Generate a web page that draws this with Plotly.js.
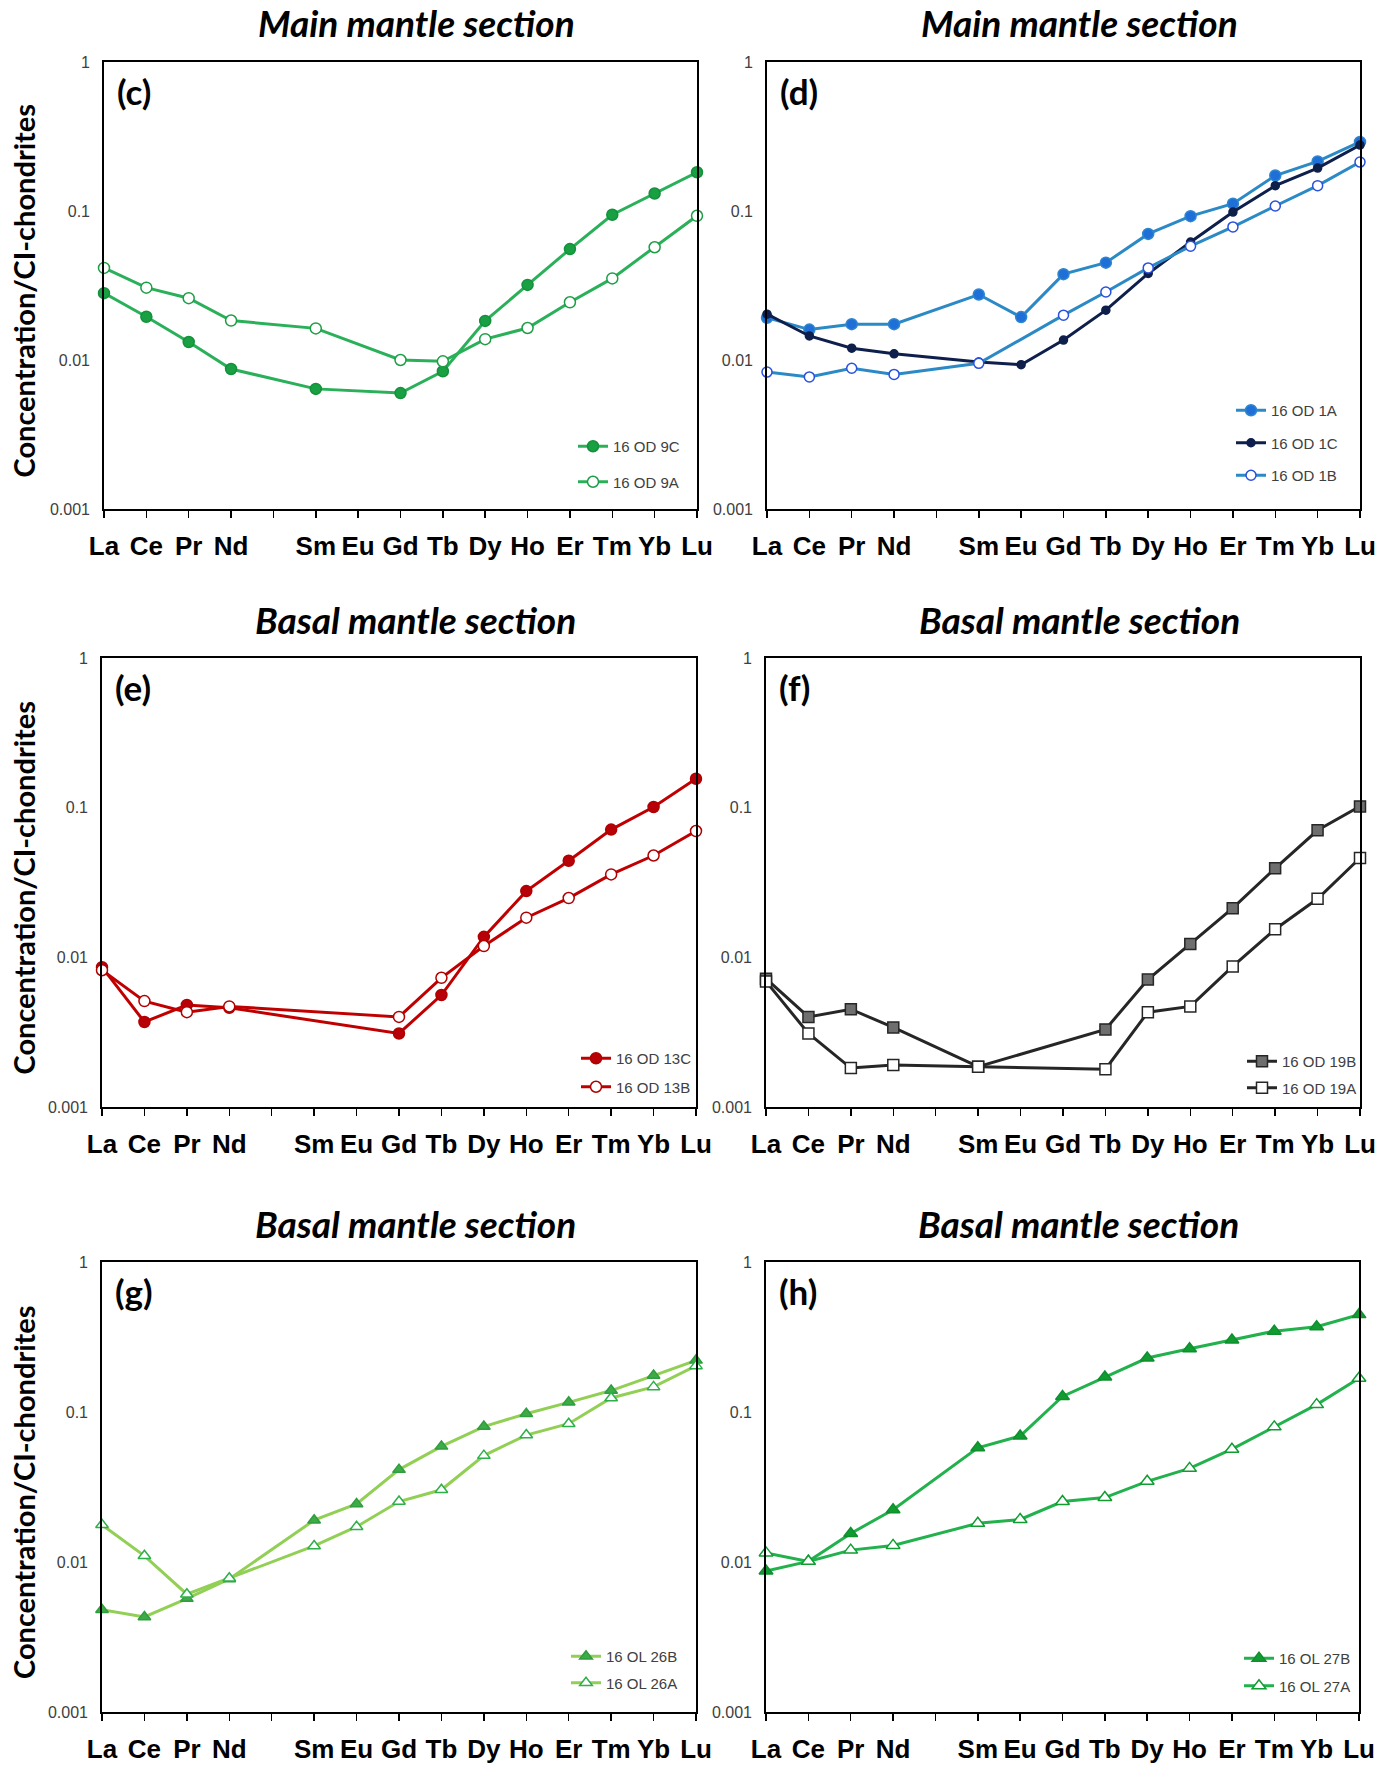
<!DOCTYPE html>
<html>
<head>
<meta charset="utf-8">
<script src="https://cdn.plot.ly/plotly-3.0.1.min.js"></script>
<style>html,body{margin:0;padding:0;background:#fff;}#chart{width:1396px;height:1766px;}</style>
</head>
<body>
<div id="chart"></div>
<script>
// ---- data ----
const elements = ['La','Ce','Pr','Nd','Pm','Sm','Eu','Gd','Tb','Dy','Ho','Er','Tm','Yb','Lu'];
const tickLabels = ['La','Ce','Pr','Nd','','Sm','Eu','Gd','Tb','Dy','Ho','Er','Tm','Yb','Lu'];
const yTickVals = [0.001, 0.01, 0.1, 1];
const yTickText = ['0.001', '0.01', '0.1', '1'];
const panelTitles = ['Main mantle section','Main mantle section','Basal mantle section','Basal mantle section','Basal mantle section','Basal mantle section'];
const panelLetters = ['(c)','(d)','(e)','(f)','(g)','(h)'];
const yTitle = 'Concentration/CI-chondrites';

const od9C  = [0.0281,0.0195,0.0132,0.0087,null,0.0064,null,0.0060,0.0084,0.0183,0.0319,0.0555,0.0944,0.131,0.182];
const od9A  = [0.0415,0.0306,0.0260,0.0184,null,0.0163,null,0.0100,0.0098,0.0138,0.0164,0.0244,0.0353,0.0571,0.0929];
const od1A  = [0.0192,0.0160,0.0174,0.0174,null,0.0275,0.0194,0.0377,0.0450,0.0702,0.0923,0.112,0.173,0.215,0.291];
const od1C  = [0.0203,0.0145,0.0120,0.0110,null,0.0097,0.0093,0.0136,0.0216,0.0381,0.0619,0.0984,0.148,0.194,0.277];
const od1B  = [0.0083,0.0077,0.0088,0.0080,null,0.0095,null,0.0200,0.0286,0.0415,0.0581,0.0782,0.108,0.148,0.213];
const od13C = [0.0086,0.0037,0.0048,0.0046,null,null,null,0.0031,0.0056,0.0137,0.0277,0.0442,0.0714,0.101,0.156];
const od13B = [0.0082,0.0051,0.0043,0.0047,null,null,null,0.0040,0.0073,0.0119,0.0184,0.0249,0.0358,0.0479,0.0698];
const od19B = [0.0072,0.0040,0.0045,0.0034,null,0.00186,null,null,0.0033,0.0071,0.0123,0.0213,0.0393,0.0706,0.102];
const od19A = [0.0069,0.0031,0.00182,0.00191,null,0.00186,null,null,0.00179,0.0043,0.0047,0.0087,0.0154,0.0246,0.0461];
const ol26B = [0.0048,0.0043,0.0057,0.0077,null,0.0190,0.0244,0.0413,0.0590,0.0800,0.0973,0.116,0.139,0.175,0.221];
const ol26A = [0.0177,0.0110,0.0061,0.0078,null,0.0128,0.0172,0.0253,0.0303,0.0512,0.0702,0.0836,0.124,0.147,0.203];
const ol27B = [0.0087,0.0101,0.0155,0.0223,null,0.0577,0.0691,0.127,0.171,0.229,0.264,0.302,0.346,0.370,0.446];
const ol27A = [0.0115,0.0101,0.0120,0.0129,null,0.0181,0.0192,0.0253,0.0269,0.0345,0.0421,0.0565,0.0796,0.112,0.168];

// ---- layout helpers ----
const W = 1396, H = 1766;
const px = v => v / W;
const py = v => 1 - v / H;
const NARROW = 'Liberation Sans Narrow, Arial Narrow, Liberation Sans, sans-serif';
const TITLEF = 'Lato, Open Sans, sans-serif';

// plot boxes in pixels [left, right, top, bottom]
const boxes = [
  [104, 697, 62, 509],
  [767, 1360, 62, 509],
  [102, 696, 658, 1107],
  [766, 1360, 658, 1107],
  [102, 696, 1262, 1712],
  [766, 1359, 1262, 1712]
];
// legend anchor: [marker x, first item y, gap]
const legendPos = [
  [595, 442, 13],
  [1253, 406, 10],
  [598, 1054, 6],
  [1264, 1057, 4],
  [588, 1652, 4],
  [1261, 1654, 5]
];

function series(panel, name, y, lineColor, symbol, mColor, mLine, size, lw) {
  const k = panel + 1;
  return {
    type: 'scatter', mode: 'lines+markers', name: name,
    x: elements, y: y, connectgaps: true, cliponaxis: false,
    xaxis: 'x' + (k === 1 ? '' : k), yaxis: 'y' + (k === 1 ? '' : k),
    legend: k === 1 ? 'legend' : 'legend' + k, legendgroup: name,
    line: {color: lineColor, width: lw || 3},
    marker: {symbol: symbol, color: mColor, size: size, line: {color: mLine, width: 1.5}}
  };
}

const traces = [
  series(0, '16 OD 9C', od9C, '#2bb05a', 'circle', '#18a043', '#15903c', 11),
  series(0, '16 OD 9A', od9A, '#2bb05a', 'circle', '#ffffff', '#1d9e46', 11),
  series(1, '16 OD 1A', od1A, '#2b8ac6', 'circle', '#1f6fd8', '#2f86cc', 11),
  series(1, '16 OD 1C', od1C, '#0e1f4c', 'circle', '#0e1f4c', '#0e1f4c', 8),
  series(1, '16 OD 1B', od1B, '#2b8ac6', 'circle', '#ffffff', '#2a50de', 10),
  series(2, '16 OD 13C', od13C, '#c00000', 'circle', '#b80008', '#b00000', 11),
  series(2, '16 OD 13B', od13B, '#c00000', 'circle', '#ffffff', '#b00000', 11),
  series(3, '16 OD 19B', od19B, '#262626', 'square', '#6e6e6e', '#262626', 11),
  series(3, '16 OD 19A', od19A, '#262626', 'square', '#ffffff', '#262626', 11),
  series(4, '16 OL 26B', ol26B, '#92cf55', 'triangle-up', '#3faa48', '#2e9e3e', 11),
  series(4, '16 OL 26A', ol26A, '#92cf55', 'triangle-up', '#ffffff', '#2db04a', 11),
  series(5, '16 OL 27B', ol27B, '#22b14c', 'triangle-up', '#119c32', '#0f8f2e', 12),
  series(5, '16 OL 27A', ol27A, '#22b14c', 'triangle-up', '#ffffff', '#119c32', 12)
];

const layout = {
  width: W, height: H, paper_bgcolor: '#ffffff', plot_bgcolor: '#ffffff',
  margin: {l: 0, r: 0, t: 0, b: 0}, showlegend: true,
  annotations: [], font: {family: NARROW, color: '#000'}
};

boxes.forEach((b, i) => {
  const k = i + 1, s = k === 1 ? '' : k;
  layout['xaxis' + s] = {
    domain: [px(b[0]), px(b[1])], anchor: 'y' + s,
    type: 'category', categoryorder: 'array', categoryarray: elements,
    range: [0, 14], tickvals: elements, ticktext: tickLabels, tickangle: 0,
    ticks: 'outside', ticklen: 7, tickwidth: 1.5, tickcolor: '#000',
    showline: true, linecolor: '#000', linewidth: 1.8, mirror: true,
    showgrid: false, zeroline: false, fixedrange: true,
    ticklabelstandoff: 6,
    tickfont: {family: NARROW, size: 26, color: '#000', weight: 'bold'}
  };
  layout['yaxis' + s] = {
    domain: [py(b[3]), py(b[2])], anchor: 'x' + s,
    type: 'log', range: [-3, 0], tickvals: yTickVals, ticktext: yTickText,
    ticks: '', showline: true, linecolor: '#000', linewidth: 1.8, mirror: true,
    showgrid: false, zeroline: false, fixedrange: true,
    ticklabelstandoff: 9,
    tickfont: {family: NARROW, size: 16, color: '#404040'}
  };
  // panel title
  layout.annotations.push({
    text: panelTitles[i], xref: 'paper', yref: 'paper',
    x: px((b[0] + b[1]) / 2 + 16), y: py(b[2] - 39), xanchor: 'center', yanchor: 'middle',
    showarrow: false, font: {family: TITLEF, size: 37, color: '#000', weight: 'bold', style: 'italic'}
  });
  // panel letter
  layout.annotations.push({
    text: panelLetters[i], xref: 'paper', yref: 'paper',
    x: px(b[0] + 11), y: py(b[2] + 29), xanchor: 'left', yanchor: 'middle',
    showarrow: false, font: {family: TITLEF, size: 35, color: '#000', weight: 'bold'}
  });
  if (i % 2 === 0) {
    layout.annotations.push({
      text: yTitle, xref: 'paper', yref: 'paper', textangle: -90,
      x: px(23), y: py((b[2] + b[3]) / 2 + 5), xanchor: 'center', yanchor: 'middle',
      showarrow: false, font: {family: TITLEF, size: 29, color: '#000', weight: 'bold'}
    });
  }
  const lp = legendPos[i];
  layout[k === 1 ? 'legend' : 'legend' + k] = {
    x: px(lp[0] - 22), y: py(lp[1] - 12), xanchor: 'left', yanchor: 'top',
    bgcolor: 'rgba(0,0,0,0)', borderwidth: 0, traceorder: 'grouped',
    tracegroupgap: lp[2], itemclick: false,
    font: {family: NARROW, size: 15, color: '#404040'}
  };
});

Plotly.newPlot('chart', traces, layout, {staticPlot: true});
</script>
</body>
</html>
